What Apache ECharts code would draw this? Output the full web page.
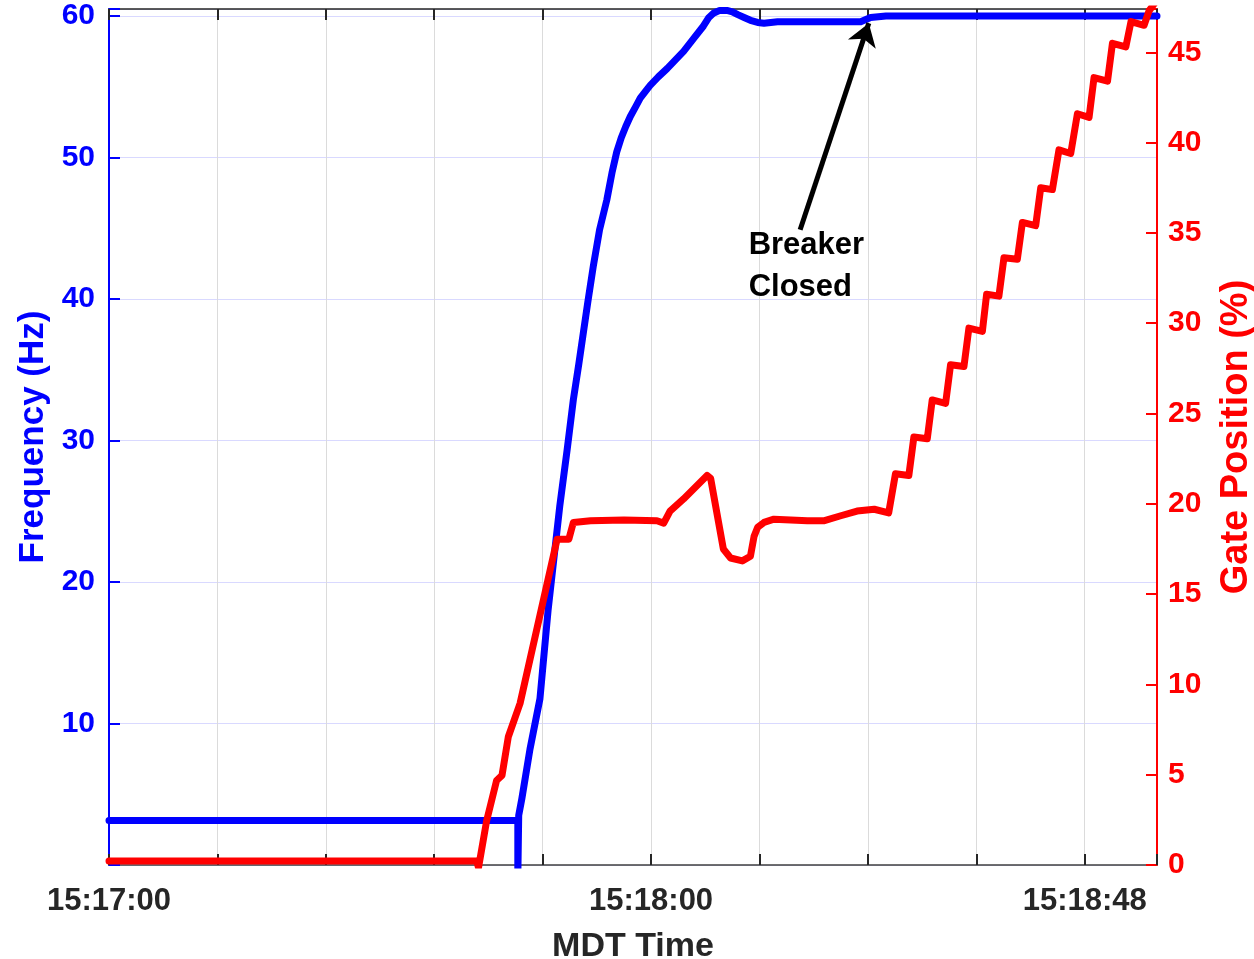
<!DOCTYPE html>
<html><head><meta charset="utf-8">
<script src="https://cdn.jsdelivr.net/npm/echarts@6/dist/echarts.min.js"></script>
<style>html,body{margin:0;padding:0;background:#fff}#c{width:1254px;height:959px}</style>
</head><body><div id="c"></div>
<script>
// seconds after 15:17:00
const freqTime  = [0, 45.25, 45.25, 45.35, 45.35, 45.7, 46.6, 47.7, 48.6, 49.9, 50.7, 51.4, 52.0, 52.5, 53.0, 53.6, 54.3, 55.1, 55.7, 56.2, 56.7, 57.2, 57.7, 58.3, 58.8, 59.4, 59.9, 60.8, 61.8, 62.7, 63.6, 64.7, 65.8, 66.4, 66.9, 67.6, 68.4, 69.0, 69.6, 70.3, 71.0, 71.8, 72.5, 74.0, 76.2, 79.9, 83.2, 84.3, 86.0, 89.8, 116];
const freqValue = [3.15, 3.15, -1, -1, 3.5, 4.7, 8.2, 11.75, 18.0, 25.4, 29.3, 32.9, 35.4, 37.6, 39.8, 42.3, 44.9, 47.0, 49.0, 50.4, 51.4, 52.2, 52.9, 53.6, 54.2, 54.7, 55.1, 55.7, 56.3, 56.9, 57.5, 58.4, 59.3, 59.9, 60.2, 60.4, 60.4, 60.3, 60.1, 59.9, 59.7, 59.55, 59.5, 59.6, 59.6, 59.6, 59.6, 59.9, 60.0, 60.0, 60.0];

const gateTime  = [0, 40.7, 40.9, 41.8, 42.9, 43.5, 44.2, 45.5, 49.6, 50.9, 51.4, 53.3, 57.0, 60.65, 61.4, 62.1, 63.6, 66.2, 66.6, 68.0, 68.8, 70.1, 71.0, 71.4, 71.8, 72.5, 73.6, 77.3, 79.1, 81.0, 82.8, 84.7, 86.3, 87.05, 88.53,
  89.09, 90.57, 91.12, 92.60, 93.15, 94.63, 95.18, 96.67, 97.14, 98.50, 99.06, 100.54, 101.10, 102.57, 103.13, 104.42, 105.15, 106.45, 107.19, 108.48, 109.03, 110.52, 111.07, 112.55, 113.12, 114.57, 115.12, 116.0];
const gateValue = [0.22, 0.22, -0.15, 2.45, 4.68, 4.96, 7.1, 8.95, 18.04, 18.04, 18.97, 19.06, 19.1, 19.06, 18.93, 19.6, 20.27, 21.57, 21.4, 17.5, 17.0, 16.84, 17.1, 18.2, 18.7, 18.97, 19.15, 19.06, 19.06, 19.34, 19.6, 19.7, 19.5, 21.66, 21.57,
  23.7, 23.6, 25.75, 25.56, 27.7, 27.6, 29.73, 29.55, 31.6, 31.5, 33.63, 33.54, 35.58, 35.4, 37.5, 37.4, 39.6, 39.4, 41.6, 41.4, 43.6, 43.4, 45.5, 45.3, 46.7, 46.5, 47.3, 47.9];

const xTickLabels = {0: '15:17:00', 60: '15:18:00', 108: '15:18:48'};
const freqTicks = [10, 20, 30, 40, 50, 60];
const gateTicks = [0, 5, 10, 15, 20, 25, 30, 35, 40, 45];

const arrowTail = [76.5, 44.9];
const arrowHead = [84.1, 59.5];
const noteAnchor = [70.8, 42.3];
const noteText = 'Breaker\nClosed';

const FONT = '"Liberation Sans", Arial, sans-serif';
const zip = (a, b) => a.map((v, i) => [v, b[i]]);

const chart = echarts.init(document.getElementById('c'), null, {renderer: 'canvas'});
chart.setOption({
  animation: false,
  backgroundColor: '#ffffff',
  grid: {left: 109, right: 97, top: 9, bottom: 94, containLabel: false, outerBoundsMode: 'none'},
  xAxis: [{
    type: 'value', min: 0, max: 116, interval: 12, position: 'bottom',
    name: 'MDT Time', nameLocation: 'middle', nameGap: 65,
    nameTextStyle: {fontFamily: FONT, fontWeight: 'bold', fontSize: 34, color: '#262626'},
    axisLine: {show: true, onZero: false, lineStyle: {color: '#404040', width: 1.5}},
    axisTick: {show: true, inside: true, length: 11, lineStyle: {color: '#262626', width: 2}},
    axisLabel: {show: true, margin: 21, fontFamily: FONT, fontWeight: 'bold', fontSize: 31, color: '#262626',
      formatter: v => xTickLabels[v] || ''},
    splitLine: {show: true, lineStyle: {color: '#dbdbdb', width: 1}}
  }, {
    type: 'value', min: 0, max: 116, interval: 12, position: 'top',
    axisLine: {show: true, onZero: false, lineStyle: {color: '#262626', width: 1.5}},
    axisTick: {show: true, inside: true, length: 11, lineStyle: {color: '#262626', width: 2}},
    axisLabel: {show: false},
    splitLine: {show: false}
  }],
  yAxis: [{
    type: 'value', min: 0, max: 60.5, interval: 10, position: 'left',
    name: 'Frequency (Hz)', nameLocation: 'middle', nameGap: 56,
    nameTextStyle: {fontFamily: FONT, fontWeight: 'bold', fontSize: 35, color: '#0000ff'},
    axisLine: {show: true, onZero: false, lineStyle: {color: '#0000ff', width: 2}},
    axisTick: {show: true, inside: true, length: 11, lineStyle: {color: '#0000ff', width: 2}},
    axisLabel: {show: true, margin: 14, fontFamily: FONT, fontWeight: 'bold', fontSize: 30, color: '#0000ff',
      formatter: v => freqTicks.includes(v) ? String(v) : ''},
    splitLine: {show: true, lineStyle: {color: '#d9d9ff', width: 1}}
  }, {
    type: 'value', min: 0, max: 47.4, interval: 5, position: 'right',
    name: 'Gate Position (%)', nameLocation: 'middle', nameGap: 61,
    nameTextStyle: {fontFamily: FONT, fontWeight: 'bold', fontSize: 38, color: '#ff0000'},
    axisLine: {show: true, onZero: false, lineStyle: {color: '#ff0000', width: 2}},
    axisTick: {show: true, inside: true, length: 11, lineStyle: {color: '#ff0000', width: 2}},
    axisLabel: {show: true, margin: 11, fontFamily: FONT, fontWeight: 'bold', fontSize: 30, color: '#ff0000',
      formatter: v => gateTicks.includes(v) ? String(v) : ''},
    splitLine: {show: false}
  }],
  series: [{
    name: 'Frequency', type: 'line', xAxisIndex: 0, yAxisIndex: 0,
    data: zip(freqTime, freqValue), showSymbol: false, symbol: 'none', clip: true,
    lineStyle: {color: '#0000ff', width: 7, cap: 'round', join: 'round'},
    z: 2,
    markLine: {
      silent: true, symbol: ['none', 'arrow'], symbolSize: 22,
      label: {show: false},
      lineStyle: {color: '#000000', width: 5, type: 'solid'},
      emphasis: {disabled: true},
      data: [[{coord: arrowTail}, {coord: arrowHead}]],
      z: 5
    },
    markPoint: {
      silent: true,
      data: [{coord: noteAnchor, symbol: 'circle', symbolSize: 0,
        label: {show: true, position: 'right', distance: 0, formatter: noteText,
          fontFamily: FONT, fontWeight: 'bold', fontSize: 31, lineHeight: 42, color: '#000000', align: 'left'}}]
    }
  }, {
    name: 'Gate Position', type: 'line', xAxisIndex: 0, yAxisIndex: 1,
    data: zip(gateTime, gateValue), showSymbol: false, symbol: 'none', clip: true,
    lineStyle: {color: '#ff0000', width: 7, cap: 'round', join: 'round'},
    z: 3
  }]
});
</script></body></html>
